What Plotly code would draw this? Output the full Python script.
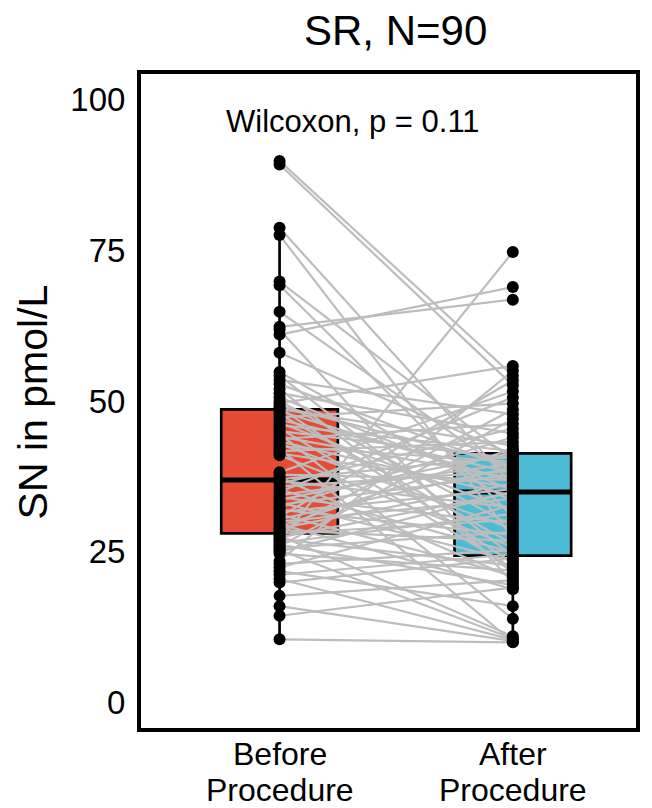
import numpy as np
import plotly.graph_objects as go

# ---------------- data ----------------
categories = ["Before Procedure", "After Procedure"]
title_text = "SR, N=90"
test_label = "Wilcoxon, p = 0.11"
y_title = "SN in pmol/L"
y_ticks = [0, 25, 50, 75, 100]

before = [89.8, 89.2, 78.7, 77.5, 69.8, 69.2, 64.8, 62.3, 61.8, 61.0,
          58.0, 54.8, 54.2, 53.5, 52.8, 52.0, 51.3, 50.6, 50.0, 49.6,
          49.2, 48.9, 48.7, 48.3, 47.8, 47.3, 46.9, 46.4, 46.0, 45.5,
          45.0, 44.6, 44.1, 43.7, 43.3, 42.9, 42.5, 42.1, 41.7, 41.3,
          41.0, 38.2, 37.8, 37.3, 37.0, 36.8, 36.3, 35.8, 35.3, 34.9,
          34.4, 34.0, 33.6, 33.2, 32.8, 32.4, 32.0, 31.6, 31.2, 30.8,
          30.4, 30.0, 29.6, 29.2, 28.9, 28.6, 28.3, 28.0, 27.7, 27.4,
          27.1, 26.8, 26.5, 26.2, 25.9, 25.6, 25.3, 25.0, 24.7, 23.5,
          23.0, 22.4, 21.8, 21.2, 20.5, 19.9, 17.7, 16.0, 14.4, 10.5]

after = [54.2, 52.6, 36.0, 27.3, 40.2, 30.8, 37.5, 66.8, 19.9, 68.9,
         41.1, 33.3, 24.3, 47.8, 38.7, 21.5, 44.6, 35.2, 29.3, 55.8,
         39.3, 23.1, 42.6, 36.6, 26.3, 49.6, 38.1, 31.8, 41.7, 22.3,
         40.5, 13.9, 37.2, 46.2, 34.3, 28.8, 39.9, 10.1, 43.2, 35.7,
         25.8, 51.6, 36.9, 20.7, 40.8, 32.3, 45.4, 38.4, 24.9, 50.6,
         39.6, 29.8, 41.4, 23.5, 37.8, 44.0, 27.8, 35.4, 21.1, 53.4,
         39.0, 33.8, 18.8, 42.1, 36.3, 26.8, 48.6, 30.3, 11.0, 34.8,
         22.7, 74.7, 31.3, 19.5, 47.0, 28.3, 10.6, 35.0, 21.9, 55.0,
         25.3, 32.8, 16.0, 24.6, 10.4, 23.9, 20.3, 10.2, 19.1, 10.0]

# ---------------- style ----------------
FONT = "Liberation Sans, Arial, sans-serif"
box_colors = ["#E64B35", "#4DBBD5"]
positions = [1, 2]
box_width = 0.5

fig = go.Figure()

# boxes
for p, vals, col in zip(positions, [before, after], box_colors):
    v = np.array(vals)
    q1, med, q3 = np.percentile(v, [25, 50, 75])
    iqr = q3 - q1
    lo = v[v >= q1 - 1.5 * iqr].min()
    hi = v[v <= q3 + 1.5 * iqr].max()
    fig.add_trace(go.Box(
        x=[p], q1=[q1], median=[med], q3=[q3],
        lowerfence=[lo], upperfence=[hi],
        width=box_width, fillcolor=col,
        line=dict(color="black", width=2.7),
        whiskerwidth=0, boxpoints=False, showlegend=False,
        hoverinfo="skip"))
    fig.add_trace(go.Scatter(
        x=[p - box_width / 2, p + box_width / 2], y=[med, med],
        mode="lines", line=dict(color="black", width=5),
        showlegend=False, hoverinfo="skip"))

# paired lines
lx, ly = [], []
for b, a in zip(before, after):
    lx += [positions[0], positions[1], None]
    ly += [b, a, None]
fig.add_trace(go.Scatter(x=lx, y=ly, mode="lines",
                         line=dict(color="#BDBDBD", width=2.2),
                         showlegend=False, hoverinfo="skip"))

# points
for p, vals in zip(positions, [before, after]):
    fig.add_trace(go.Scatter(x=[p] * len(vals), y=vals, mode="markers",
                             marker=dict(color="black", size=12),
                             showlegend=False))

# labels
annotations = []
label_rows = [-0.0398, -0.0948]
for p, cat in zip(positions, categories):
    for row_y, word in zip(label_rows, cat.split(" ")):
        annotations.append(dict(
            x=p, y=row_y, xref="x", yref="paper",
            text=word, showarrow=False, xanchor="center", yanchor="middle",
            font=dict(size=32, color="black", family=FONT)))
annotations.append(dict(x=1.315, y=96.3, xref="x", yref="y", text=test_label,
                        showarrow=False, xanchor="center", yanchor="middle",
                        font=dict(size=31, color="black", family=FONT)))
annotations.append(dict(x=0.515, y=1.067, xref="paper", yref="paper",
                        text=title_text, showarrow=False, xanchor="center",
                        yanchor="middle",
                        font=dict(size=42, color="black", family=FONT)))
annotations.append(dict(x=-0.218, y=0.498, xref="paper", yref="paper",
                        text=y_title, textangle=-90, showarrow=False,
                        xanchor="center", yanchor="middle",
                        font=dict(size=41, color="black", family=FONT)))

fig.update_layout(
    width=644, height=800,
    margin=dict(l=133, r=16, t=66, b=80),
    paper_bgcolor="white", plot_bgcolor="white",
    font=dict(family=FONT, color="black"),
    showlegend=False,
    annotations=annotations,
    xaxis=dict(range=[0.406, 2.528], showticklabels=False, showgrid=False,
               zeroline=False, showline=True, mirror=True, linecolor="black",
               linewidth=4, ticks=""),
    yaxis=dict(range=[-4.2, 104.2], tickvals=y_ticks,
               tickfont=dict(size=33, color="black", family=FONT),
               showgrid=False, zeroline=False, showline=True, mirror=True,
               linecolor="black", linewidth=4, ticks="",
               ticklabelstandoff=5),
)

fig.write_html("out.html")
